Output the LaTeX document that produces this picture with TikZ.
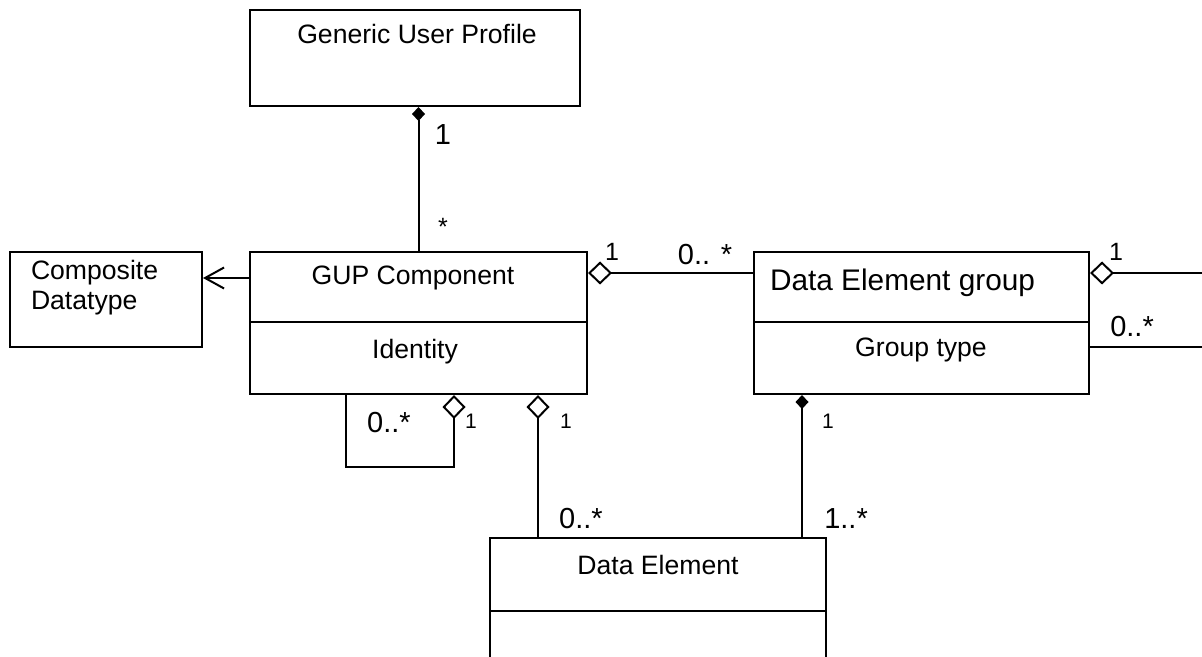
\documentclass[tikz,border=0pt]{standalone}
\usepackage{fontspec}
\setmainfont{Liberation Sans}
\usetikzlibrary{arrows.meta}
\usetikzlibrary{calc}

\begin{document}
\begin{tikzpicture}[
  x=0.5pt, y=-0.5pt,
  line width=1pt,
  cls/.style={draw, rectangle, inner sep=0},
  txt/.style={inner sep=0, font=\fontsize{13.3pt}{15pt}\selectfont},
  big/.style={inner sep=0, font=\fontsize{14.9pt}{17pt}\selectfont},
  mult/.style={inner sep=0, font=\fontsize{14.5pt}{17pt}\selectfont},
  mid/.style={inner sep=0, font=\fontsize{12.5pt}{15pt}\selectfont},
  small/.style={inner sep=0, font=\fontsize{10.5pt}{12pt}\selectfont},
  agg/.style={-{Diamond[open,length=12pt,width=11.5pt]}},
  comp/.style={-{Diamond[length=7pt,width=6.5pt]}},
  dep/.style={-{Straight Barb[length=9.5pt,width=10.5pt]}}
  ]
  \clip (0,0) rectangle (1202,657);
  % class boxes
  \node[cls, minimum width=165pt, minimum height=48pt](gen) at (415,58) {};
  \node[cls, minimum width=96pt, minimum height=47.5pt](cdt) at (106,299.5) {};
  \node[cls, minimum width=168.5pt, minimum height=71pt](gup) at (418.5,323) {};
  \node[cls, minimum width=167.5pt, minimum height=71pt](deg) at (921.5,323) {};
  \node[cls, minimum width=168pt, minimum height=71pt](de) at (658,609) {};
  \draw (gup.west |- 0,322) -- (gup.east |- 0,322);
  \draw (deg.west |- 0,322) -- (deg.east |- 0,322);
  \draw (de.west |- 0,611) -- (de.east |- 0,611);

  % names and attributes
  \node[txt](genname) at (417,34) {Generic User Profile};
  \node[txt, align=left, anchor=west](cdtname) at (30,288) {Composite\\Datatype};
  \node[txt](gupname) at (413,278) {GUP Component};
  \node[txt](gupattr) at (415,352) {Identity};
  \node[big, anchor=west](degname) at (769,283) {Data Element group};
  \node[txt](degattr) at (921,350) {Group type};
  \node[txt](dename) at (658,565) {Data Element};

  % connectors
  \coordinate (rtop) at (1202,273);
  \coordinate (rbot) at (1202,347);
  \draw[comp] (gup.north) -- (gup.north |- gen.south);
  \draw[dep] (gup.west |- 0,278) -- (cdt.east |- 0,278);
  \draw[agg] (deg.west |- 0,273) -- (gup.east |- 0,273);
  \draw[agg] (rtop) -- (deg.east |- rtop);
  \draw (rbot) -- (deg.east |- rbot);
  \draw[agg] (gup.south -| 346,0) |- (454,467) -- (gup.south -| 454,0);
  \draw[agg] (de.north -| 538,0) -- (gup.south -| 538,0);
  \draw[comp] (de.north -| 802,0) -- (deg.south -| 802,0);

  % multiplicities
  \node[mult](m1) at (443,135) {1};
  \node[mid](m2) at (443,227) {*};
  \node[mid](m3) at (612,252) {1};
  \node[mult](m4) at (705,255) {0.. *};
  \node[mid](m5) at (1116,252) {1};
  \node[mult](m6) at (1132,327) {0..*};
  \node[mult](m7) at (389,423) {0..*};
  \node[small](m8) at (471,421) {1};
  \node[small](m9) at (566,421) {1};
  \node[small](m10) at (828,421) {1};
  \node[mult](m11) at (581,519) {0..*};
  \node[mult](m12) at (846,519) {1..*};
\end{tikzpicture}
\end{document}
